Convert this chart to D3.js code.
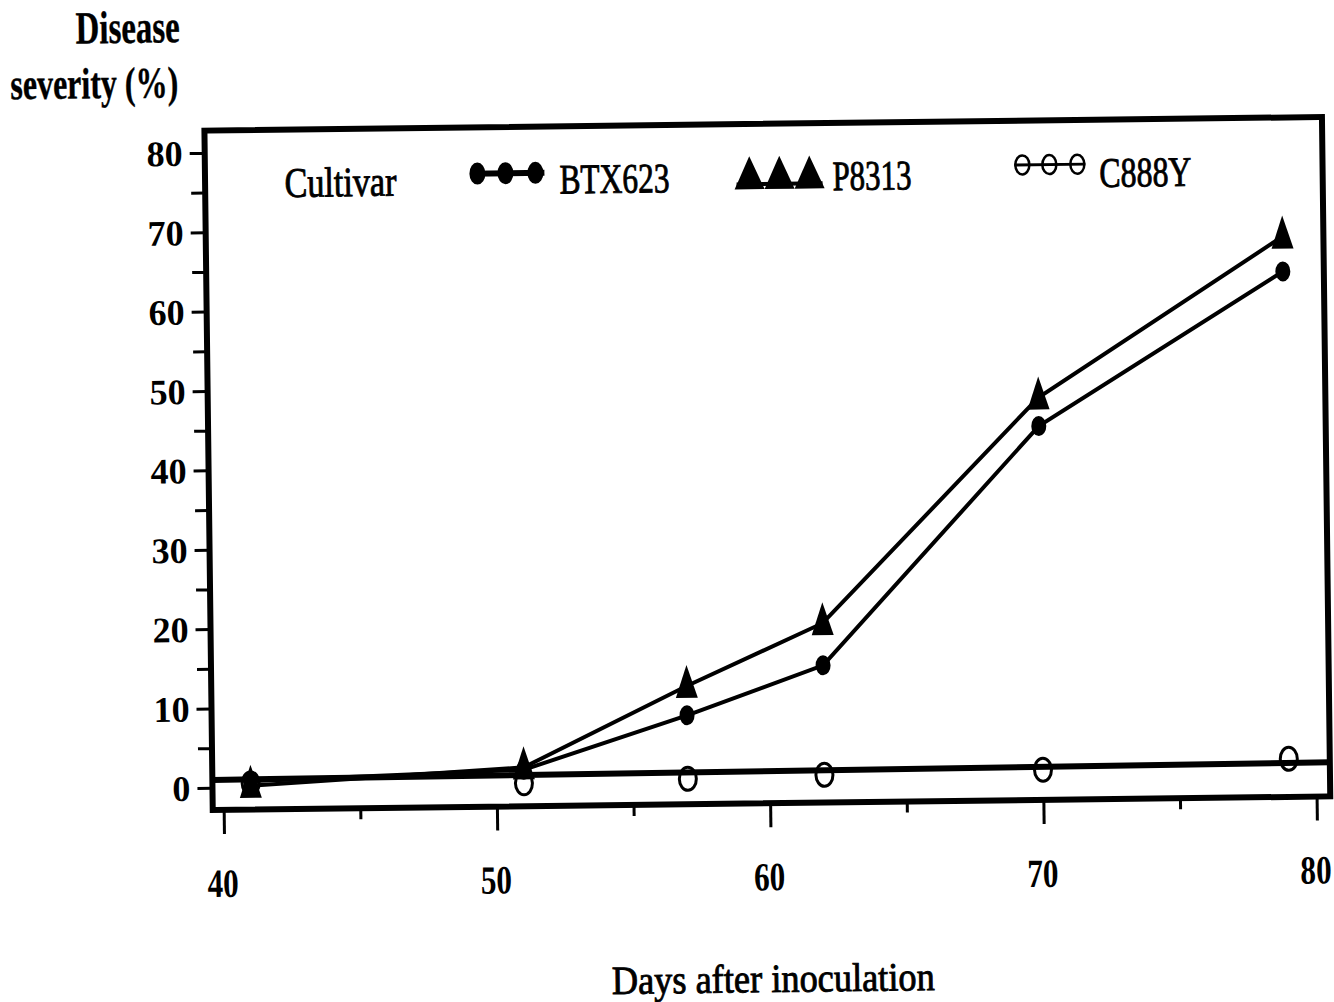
<!DOCTYPE html>
<html>
<head>
<meta charset="utf-8">
<script src="https://cdn.jsdelivr.net/npm/d3@7"></script>
<style>
body { margin: 0; background: #fff; }
text { font-family: "Liberation Serif", "Times New Roman", serif; fill: #000; }
</style>
</head>
<body>
<svg width="1334" height="1002"></svg>
<script>
// values
const days = [41, 51, 57, 62, 70, 79]
const btx623 = [0.8, 1.8, 8.4, 14.5, 44.3, 63.4]
const p8313 = [0.2, 2.1, 12.1, 19.8, 47.9, 67.8]
const c888y = [0.5, 0.1, 0.4, 0.7, 1.0, 2.0]
// the long line across the frame through the C888Y points
const fitDays = [39.6, 80.5]
const c888yFit = [1.0, 1.5]

const xTicks = [40, 50, 60, 70, 80]
const xMinor = [45, 55, 65, 75]
const yTicks = [0, 10, 20, 30, 40, 50, 60, 70, 80]
const yMinor = [5, 15, 25, 35, 45, 55, 65, 75]
const xFrame = [39.6, 80.5]
const yFrame = [-2.8, 82.8]

const svg = d3.select("svg")
// the scan is a little skewed, so the whole drawing is turned slightly
const g = svg.append("g").attr("transform", "rotate(-0.7, 770, 466)")

const x = d3.scaleLinear().domain([40, 80]).range([219.5, 1312.5])
const y = d3.scaleLinear().domain([0, 80]).range([781, 146])

const frameL = x(xFrame[0]), frameR = x(xFrame[1])
const frameT = y(yFrame[1]), frameB = y(yFrame[0])

// y axis
const yAxis = g.append("g")
  .attr("transform", `translate(${frameL}, 0)`)
  .call(d3.axisLeft(y).tickValues(yTicks).tickSize(15).tickPadding(7))
yAxis.append("g").call(d3.axisLeft(y).tickValues(yMinor).tickSize(14).tickFormat(""))
yAxis.selectAll(".domain").remove()
yAxis.selectAll("line").attr("stroke", "#000").attr("stroke-width", 3)
yAxis.selectAll("text")
  .attr("fill", "#000")
  .style("font-size", "36px")
  .style("font-weight", "bold")
  .attr("dy", "0.34em")

// x axis
const xAxis = g.append("g")
  .attr("transform", `translate(0, ${frameB})`)
  .call(d3.axisBottom(x).tickValues(xTicks).tickSize(24))
xAxis.append("g").call(d3.axisBottom(x).tickValues(xMinor).tickSize(11).tickFormat(""))
xAxis.selectAll(".domain").remove()
xAxis.selectAll("line").attr("stroke", "#000").attr("stroke-width", 3)
xAxis.selectAll("text")
  .attr("fill", "#000")
  .attr("x", -2.5)
  .attr("y", 87)
  .attr("dy", 0)
  .attr("transform", "scale(0.78, 1)")
  .style("font-size", "40px")
  .style("font-weight", "bold")

// frame
g.append("rect")
  .attr("x", frameL).attr("y", frameT)
  .attr("width", frameR - frameL).attr("height", frameB - frameT)
  .attr("fill", "none").attr("stroke", "#000").attr("stroke-width", 6)

// lines
const line = d3.line().x(d => x(d[0])).y(d => y(d[1]))

g.append("path")
  .datum(d3.zip(fitDays, c888yFit))
  .attr("d", line)
  .attr("fill", "none").attr("stroke", "#000").attr("stroke-width", 6)

;[btx623, p8313].forEach(vals => {
  g.append("path")
    .datum(d3.zip(days, vals))
    .attr("d", line)
    .attr("fill", "none").attr("stroke", "#000").attr("stroke-width", 4)
})

// markers
const triangle = "M0,-21 L11,12 L-11,12 Z"

g.selectAll(".dot")
  .data(d3.zip(days, btx623))
  .enter()
  .append("ellipse")
  .attr("class", "dot")
  .attr("cx", d => x(d[0])).attr("cy", d => y(d[1]))
  .attr("rx", 7.5).attr("ry", 10)
  .attr("fill", "#000")

g.selectAll(".tri")
  .data(d3.zip(days, p8313))
  .enter()
  .append("path")
  .attr("class", "tri")
  .attr("transform", d => `translate(${x(d[0])}, ${y(d[1])})`)
  .attr("d", triangle)
  .attr("fill", "#000")

g.selectAll(".ring")
  .data(d3.zip(days, c888y))
  .enter()
  .append("ellipse")
  .attr("class", "ring")
  .attr("cx", d => x(d[0])).attr("cy", d => y(d[1]))
  .attr("rx", 8.5).attr("ry", 11.5)
  .attr("fill", "none").attr("stroke", "#000").attr("stroke-width", 3)

// legend
const label = (txt, tx, ty, len, size, weight, anchor) => g.append("text")
  .attr("x", tx).attr("y", ty)
  .attr("text-anchor", anchor || "start")
  .attr("textLength", len)
  .attr("lengthAdjust", "spacingAndGlyphs")
  .attr("stroke", "#000")
  .attr("stroke-width", weight == "bold" ? 0.4 : 0.9)
  .style("font-size", size + "px")
  .style("font-weight", weight)
  .text(txt)

label("Cultivar", 288, 191, 112, 42, "normal")

g.append("line")
  .attr("x1", 474).attr("x2", 548).attr("y1", 170).attr("y2", 170)
  .attr("stroke", "#000").attr("stroke-width", 6)
;[481, 509, 539].forEach(cx => {
  g.append("ellipse").attr("cx", cx).attr("cy", 170).attr("rx", 8).attr("ry", 11).attr("fill", "#000")
})
label("BTX623", 563, 191, 110, 42, "normal")

;[753, 783, 813].forEach(cx => {
  g.append("path")
    .attr("transform", `translate(${cx}, 176)`)
    .attr("d", "M0,-20 L15,13 L-15,13 Z")
    .attr("fill", "#000")
})
g.append("line")
  .attr("x1", 740).attr("x2", 826).attr("y1", 184).attr("y2", 184)
  .attr("stroke", "#000").attr("stroke-width", 4)
label("P8313", 836, 191, 79, 42, "normal")

g.append("line")
  .attr("x1", 1018).attr("x2", 1089).attr("y1", 168).attr("y2", 168)
  .attr("stroke", "#000").attr("stroke-width", 3)
;[1026, 1053, 1081].forEach(cx => {
  g.append("ellipse").attr("cx", cx).attr("cy", 168).attr("rx", 7).attr("ry", 9.5)
    .attr("fill", "none").attr("stroke", "#000").attr("stroke-width", 2.5)
})
label("C888Y", 1103, 191, 92, 42, "normal")

// axis titles
label("Disease", 133, 35, 104, 46, "bold", "middle")
label("severity (%)", 99, 90, 168, 44, "bold", "middle")
label("Days after inoculation", 767, 992, 323, 40, "normal", "middle")
</script>
</body>
</html>
